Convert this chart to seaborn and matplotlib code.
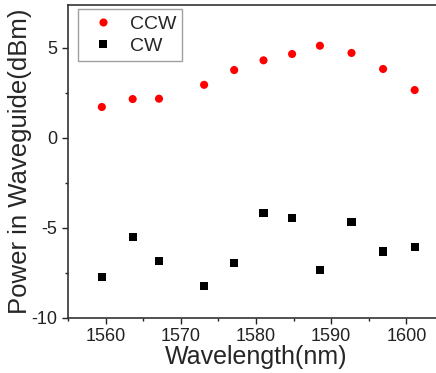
import numpy as np
import pandas as pd
import matplotlib
matplotlib.use("Agg")
import matplotlib.pyplot as plt
from matplotlib.ticker import MultipleLocator
import seaborn as sns

# values
wavelength = [1559.5, 1563.6, 1567.1, 1573.1, 1577.1, 1581.0, 1584.8, 1588.5, 1592.7, 1596.9, 1601.1]
ccw_power = [1.71, 2.15, 2.17, 2.94, 3.76, 4.30, 4.65, 5.11, 4.71, 3.82, 2.65]
cw_power = [-7.70, -5.48, -6.85, -8.24, -6.96, -4.18, -4.44, -7.35, -4.68, -6.31, -6.06]

df = pd.DataFrame({
    "Wavelength": wavelength * 2,
    "Power": ccw_power + cw_power,
    "Direction": ["CCW"] * len(wavelength) + ["CW"] * len(wavelength),
})

sns.set_style("ticks")
plt.rcParams['font.family'] = ['Liberation Sans', 'DejaVu Sans']
plt.rcParams['axes.unicode_minus'] = False

fig = plt.figure(figsize=(4.36, 3.73), dpi=100)
ax = fig.add_axes([68 / 436, 55 / 373, 376 / 436, 313 / 373])

sns.scatterplot(data=df, x="Wavelength", y="Power", hue="Direction", style="Direction",
                palette={"CCW": "#ff0000", "CW": "#000000"},
                markers={"CCW": "o", "CW": "s"}, s=34, linewidth=0, ax=ax)

ax.set_xlim(1555, 1605)
ax.set_ylim(-10, 7.37)
ax.xaxis.set_major_locator(MultipleLocator(10))
ax.xaxis.set_minor_locator(MultipleLocator(5))
ax.yaxis.set_major_locator(MultipleLocator(5))
ax.yaxis.set_minor_locator(MultipleLocator(2.5))
ax.tick_params(which="major", length=4, width=1, labelsize=13, colors="#222222")
ax.tick_params(which="minor", length=2.5, width=1, colors="#222222")
for sp in ax.spines.values():
    sp.set_visible(True)
    sp.set_color("#333333")
    sp.set_linewidth(1.2)
ax.spines["right"].set_visible(False)

ax.set_xlabel("Wavelength(nm)", fontsize=18, labelpad=0)
ax.set_ylabel("Power in Waveguide(dBm)", fontsize=18.5, labelpad=0)

leg = ax.legend(loc="upper left", bbox_to_anchor=(0.027, 0.987), borderaxespad=0,
                fontsize=14, frameon=True, fancybox=False, edgecolor="#888888",
                handletextpad=0.35, borderpad=0.3, labelspacing=0.25, markerscale=1.0)
leg.get_frame().set_linewidth(1)

fig.savefig("out.png", dpi=100)
